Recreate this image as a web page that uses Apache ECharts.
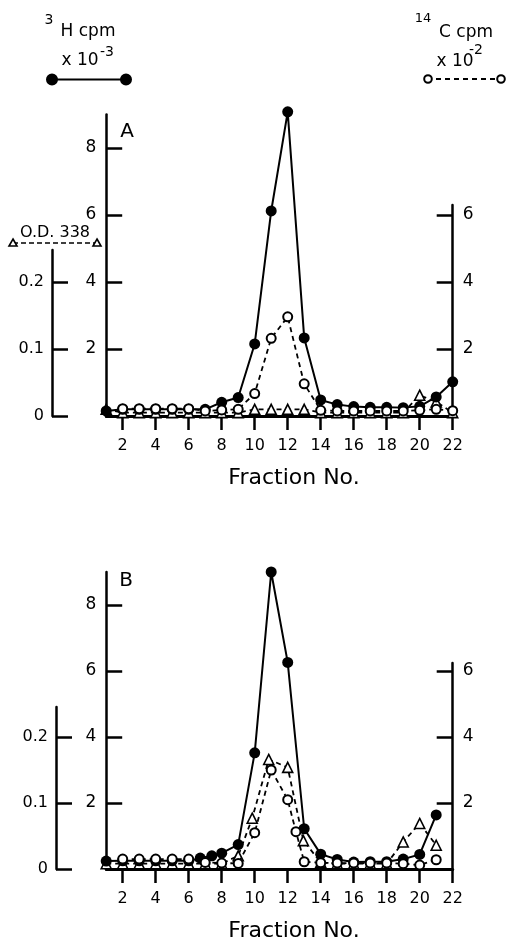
<!DOCTYPE html>
<html><head><meta charset="utf-8">
<script src="https://cdn.jsdelivr.net/npm/echarts@6/dist/echarts.min.js"></script>
<style>html,body{margin:0;padding:0;background:#fff}#c{width:507px;height:943px}</style>
</head><body><div id="c"></div>
<script>
// ---------- data ----------
const fracA = [1,2,3,4,5,6,7,8,9,10,11,12,13,14,15,16,17,18,19,20,21,22];
const h3A   = [0.15,0.2,0.2,0.2,0.2,0.2,0.2,0.41,0.55,2.15,6.12,9.08,2.33,0.48,0.34,0.28,0.26,0.26,0.25,0.29,0.57,1.02];
const fracAc14 = [2,3,4,5,6,7,8,9,10,11,12,13,14,15,16,17,18,19,20,21,22];
const c14A  = [0.22,0.22,0.22,0.22,0.22,0.15,0.18,0.2,0.67,2.32,2.96,0.96,0.17,0.15,0.15,0.15,0.15,0.15,0.17,0.2,0.16];
const odA   = [0.01,0.005,0.005,0.005,0.005,0.005,0.005,0.005,0.005,0.01,0.01,0.01,0.01,0.005,0.005,0.005,0.005,0.005,0.005,0.031,0.021,0.005];

const fracBh3 = [1,2,3,4,5,6,6.7,7.4,8,9,10,11,12,13,14,15,16,17,18,19,20,21];
const h3B     = [0.24,0.25,0.25,0.25,0.25,0.25,0.33,0.4,0.48,0.74,3.52,9.0,6.26,1.22,0.45,0.29,0.21,0.22,0.22,0.3,0.44,1.64];
const fracBc14 = [2,3,4,5,6,7,8,9,10,11,12,12.5,13,14,15,16,17,18,19,20,21];
const c14B     = [0.3,0.3,0.3,0.3,0.3,0.2,0.18,0.17,1.1,3.0,2.1,1.13,0.22,0.19,0.18,0.18,0.18,0.18,0.16,0.12,0.28];
const fracBod = [1,2,3,4,5,6,7,8,9,9.85,10.85,12,12.95,14,15,16,17,18,19,20,21];
const odB     = [0.008,0.008,0.008,0.008,0.008,0.008,0.008,0.008,0.02,0.077,0.166,0.154,0.043,0.01,0.008,0.008,0.008,0.008,0.041,0.069,0.036];

const xTicks = [2,4,6,8,10,12,14,16,18,20,22];
const leftTicks = [2,4,6,8];
const rightTicks = [2,4,6];
const odTicks = [0,0.1,0.2];

// ---------- chart ----------
const FONT = 'DejaVu Sans';
const zip = (xs, ys) => xs.map((x, i) => [x, ys[i]]);
const chart = echarts.init(document.getElementById('c'), null, {renderer: 'canvas'});

function mainX(gi) {
  return {gridIndex: gi, type: 'value', min: 1, max: 22,
    axisLine: {show: true, onZero: false, lineStyle: {color: '#000', width: 3}},
    axisTick: {show: true, inside: false, length: 14, lineStyle: {color: '#000', width: 2.5}, customValues: xTicks},
    axisLabel: {show: true, customValues: xTicks, color: '#000', fontSize: 16, fontFamily: FONT, margin: 22},
    splitLine: {show: false}};
}
function hiddenX(gi) { return {gridIndex: gi, type: 'value', min: 1, max: 22, show: false}; }
function leftY(gi) {
  return {gridIndex: gi, type: 'value', min: 0, max: 9, position: 'left',
    axisLine: {show: true, lineStyle: {color: '#000', width: 2.5}},
    axisTick: {show: true, inside: true, length: 16, customValues: leftTicks, lineStyle: {color: '#000', width: 2.5}},
    axisLabel: {show: true, customValues: leftTicks, color: '#000', fontSize: 17, fontFamily: FONT, margin: 10},
    splitLine: {show: false}};
}
function hiddenOdY(gi) { return {gridIndex: gi, type: 'value', min: 0, max: 0.45, show: false}; }
function rightY(gi, mx) {
  return {gridIndex: gi, type: 'value', min: 0, max: mx, position: 'right',
    axisLine: {show: true, lineStyle: {color: '#000', width: 2.5}},
    axisTick: {show: true, inside: true, length: 16, customValues: rightTicks, lineStyle: {color: '#000', width: 2.5}},
    axisLabel: {show: true, customValues: rightTicks, color: '#000', fontSize: 17, fontFamily: FONT, margin: 10},
    splitLine: {show: false}};
}
function odY(gi, mx) {
  return {gridIndex: gi, type: 'value', min: 0, max: mx, position: 'left',
    axisLine: {show: true, lineStyle: {color: '#000', width: 2.5}},
    axisTick: {show: true, inside: true, length: 16, customValues: odTicks, lineStyle: {color: '#000', width: 2.5}},
    axisLabel: {show: true, customValues: odTicks, color: '#000', fontSize: 16, fontFamily: FONT, margin: 8,
      formatter: v => (v === 0 ? '0' : v.toFixed(1))},
    splitLine: {show: false}};
}

function filledSeries(xi, yi, data) {
  return {type: 'line', xAxisIndex: xi, yAxisIndex: yi, data: data, z: 3, clip: false,
    symbol: 'circle', symbolSize: 11, showSymbol: true,
    itemStyle: {color: '#000', borderColor: '#000', borderWidth: 0},
    lineStyle: {color: '#000', width: 2, type: 'solid'}};
}
function openSeries(xi, yi, data) {
  return {type: 'line', xAxisIndex: xi, yAxisIndex: yi, data: data, z: 4, clip: false,
    symbol: 'circle', symbolSize: 9, showSymbol: true,
    itemStyle: {color: '#fff', borderColor: '#000', borderWidth: 2},
    lineStyle: {color: '#000', width: 1.8, type: [5, 4]}};
}
function triSeries(xi, yi, data) {
  return {type: 'line', xAxisIndex: xi, yAxisIndex: yi, data: data, z: 2, clip: false,
    symbol: 'triangle', symbolSize: 10, showSymbol: true,
    itemStyle: {color: '#fff', borderColor: '#000', borderWidth: 1.6},
    lineStyle: {color: '#000', width: 1.8, type: [5, 4]}};
}

function txt(x, y, s, size, align) {
  return {type: 'text', style: {x: x, y: y, text: s, fill: '#000', font: size + 'px "' + FONT + '"',
    textAlign: align || 'center', textVerticalAlign: 'middle'}};
}
function dot(x, y, r, filled) {
  return {type: 'circle', shape: {cx: x, cy: y, r: r}, style: {fill: filled ? '#000' : '#fff', stroke: '#000', lineWidth: 2}, z: 10};
}
function tri(x, y, s) {
  return {type: 'polygon', shape: {points: [[x, y - s], [x + s, y + s * 0.75], [x - s, y + s * 0.75]]},
    style: {fill: '#fff', stroke: '#000', lineWidth: 1.6}, z: 10};
}

const option = {
  animation: false,
  backgroundColor: '#fff',
  grid: [
    {left: 106.2, top: 114.5, width: 346.5, height: 301.5},
    {left: 106.2, top: 205, width: 346.5, height: 211},
    {left: 52, top: 250, width: 20, height: 166},
    {left: 106.2, top: 572, width: 346.5, height: 297},
    {left: 106.2, top: 663, width: 346.5, height: 206},
    {left: 56, top: 707, width: 20, height: 162}
  ],
  xAxis: [mainX(0), hiddenX(1), hiddenX(2), mainX(3), hiddenX(4), hiddenX(5)],
  yAxis: [leftY(0), hiddenOdY(0), rightY(1, 6.3), odY(2, 166 / 670),
          leftY(3), hiddenOdY(3), rightY(4, 206 / 33), odY(5, 162 / 660)],
  series: [
    triSeries(0, 1, zip(fracA, odA)),
    filledSeries(0, 0, zip(fracA, h3A)),
    openSeries(0, 0, zip(fracAc14, c14A)),
    triSeries(3, 5, zip(fracBod, odB)),
    filledSeries(3, 4, zip(fracBh3, h3B)),
    openSeries(3, 4, zip(fracBc14, c14B))
  ],
  graphic: [
    // top-left key
    txt(49, 20, '3', 14),
    txt(88, 32, 'H cpm', 17),
    txt(80, 61, 'x 10', 17),
    txt(107, 52, '-3', 14),
    {type: 'line', shape: {x1: 52, y1: 79.5, x2: 126, y2: 79.5}, style: {stroke: '#000', lineWidth: 2.2}},
    dot(52, 79.5, 5, true), dot(126, 79.5, 5, true),
    // top-right key
    txt(423, 19, '14', 13),
    txt(466, 33, 'C cpm', 17),
    txt(455, 62, 'x 10', 17),
    txt(476, 50, '-2', 14),
    {type: 'line', shape: {x1: 427, y1: 79, x2: 503, y2: 79}, style: {stroke: '#000', lineWidth: 1.8, lineDash: [5, 4]}},
    dot(428, 79, 3.8, false), dot(501, 79, 3.8, false),
    // O.D. 338 key
    txt(55, 233, 'O.D. 338', 16),
    {type: 'line', shape: {x1: 13, y1: 243, x2: 97, y2: 243}, style: {stroke: '#000', lineWidth: 1.6, lineDash: [5, 3]}},
    tri(13, 243, 4), tri(97, 243, 4),
    // panel letters
    txt(127, 132, 'A', 20),
    txt(126, 581, 'B', 20),
    // x titles
    txt(294, 478, 'Fraction No.', 22),
    txt(294, 931, 'Fraction No.', 22)
  ]
};
chart.setOption(option);
</script>
</body></html>
